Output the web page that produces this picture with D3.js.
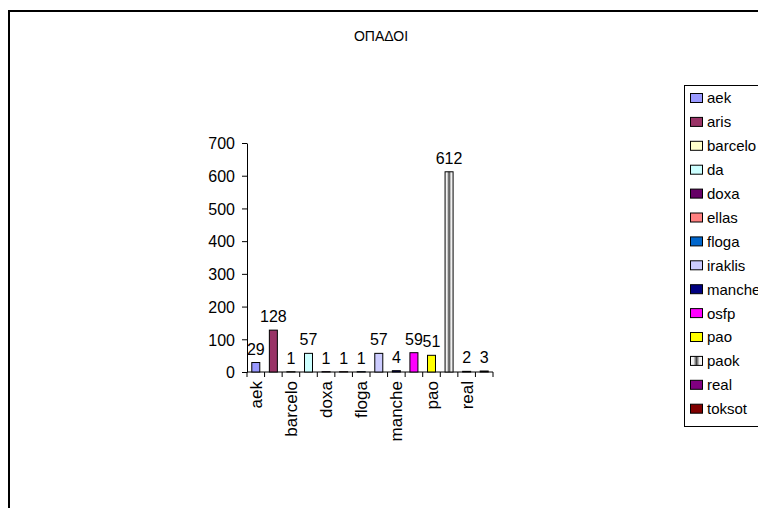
<!DOCTYPE html>
<html>
<head>
<meta charset="utf-8">
<script src="https://cdn.jsdelivr.net/npm/d3@7"></script>
<style>
  body { margin: 0; background: #fff; }
  text { font-family: "Liberation Sans", Arial, sans-serif; fill: #000; }
</style>
</head>
<body>
<script>
// chart data
var teams = ["aek", "aris", "barcelo", "da", "doxa", "ellas", "floga", "iraklis", "manche", "osfp", "pao", "paok", "real", "toksot"];
var fans = [29, 128, 1, 57, 1, 1, 1, 57, 4, 59, 51, 612, 2, 3];
var colors = ["#9999FF", "#993366", "#FFFFCC", "#CCFFFF", "#660066", "#FF8080", "#0066CC", "#CCCCFF", "#000080", "#FF00FF", "#FFFF00", "url(#paokFill)", "#800080", "#800000"];
var yTicks = [0, 100, 200, 300, 400, 500, 600, 700];

var W = 758, H = 508;
var svg = d3.select("body").append("svg")
    .attr("width", W)
    .attr("height", H);

// gray streaked fill for paok
var grad = svg.append("defs").append("linearGradient")
    .attr("id", "paokFill").attr("x1", "0").attr("x2", "1").attr("y1", "0").attr("y2", "0");
grad.append("stop").attr("offset", "0%").attr("stop-color", "#ffffff");
grad.append("stop").attr("offset", "25%").attr("stop-color", "#eeeeee");
grad.append("stop").attr("offset", "50%").attr("stop-color", "#444444");
grad.append("stop").attr("offset", "75%").attr("stop-color", "#eeeeee");
grad.append("stop").attr("offset", "100%").attr("stop-color", "#ffffff");

// outer chart frame (runs past the window on the right and bottom)
svg.append("rect")
    .attr("x", 9).attr("y", 11)
    .attr("width", 800).attr("height", 600)
    .attr("fill", "none").attr("stroke", "#000").attr("stroke-width", 2);

svg.append("text")
    .attr("x", 381).attr("y", 41)
    .attr("text-anchor", "middle")
    .style("font-size", "14px")
    .text("ΟΠΑΔΟΙ");

var x = d3.scaleBand()
    .domain(teams)
    .range([247, 493]);

var y = d3.scaleLinear()
    .domain([0, 700])
    .range([372, 143]);

// y axis
var yAxis = svg.append("g")
    .attr("transform", "translate(247,0)")
    .call(d3.axisLeft(y).tickValues(yTicks).tickSize(5).tickSizeOuter(0));
yAxis.select(".domain").attr("stroke", "#000");
yAxis.selectAll("text").style("font-size", "16px").attr("x", -12).attr("dy", "0.36em");

// x axis, ticks between categories
var xAxisG = svg.append("g");
xAxisG.append("line")
    .attr("x1", 247).attr("x2", 493)
    .attr("y1", 372).attr("y2", 372)
    .attr("stroke", "#000");
xAxisG.selectAll("line.tk")
    .data(teams.concat(["_end"]))
    .enter()
    .append("line")
    .attr("class", "tk")
    .attr("x1", function(d, i) { return 247 + i * x.step(); })
    .attr("x2", function(d, i) { return 247 + i * x.step(); })
    .attr("y1", 372).attr("y2", 377)
    .attr("stroke", "#000");

// only every other label fits
xAxisG.selectAll("text")
    .data(teams.filter(function(d, i) { return i % 2 == 0; }))
    .enter()
    .append("text")
    .attr("transform", function(d) {
        return "translate(" + (x(d) + x.bandwidth() / 2 + 6) + ",381) rotate(-90)";
    })
    .attr("text-anchor", "end")
    .style("font-size", "17px")
    .text(function(d) { return d; });

// bars
var bw = 8;
svg.selectAll("rect.bar")
    .data(teams)
    .enter()
    .append("rect")
    .attr("class", "bar")
    .attr("x", function(d) { return x(d) + x.bandwidth() / 2 - bw / 2; })
    .attr("y", function(d, i) { return y(fans[i]); })
    .attr("width", bw)
    .attr("height", function(d, i) { return y(0) - y(fans[i]); })
    .attr("fill", function(d, i) { return colors[i]; })
    .attr("stroke", "#000")
    .attr("stroke-width", 1);

// value labels
svg.selectAll("text.val")
    .data(teams)
    .enter()
    .append("text")
    .attr("class", "val")
    .attr("x", function(d) { return x(d) + x.bandwidth() / 2; })
    .attr("y", function(d, i) { return y(fans[i]) - 8; })
    .attr("text-anchor", "middle")
    .style("font-size", "16px")
    .text(function(d, i) { return fans[i]; });

// legend (clipped by the window on the right, as in the original)
svg.append("rect")
    .attr("x", 684.5).attr("y", 85.5)
    .attr("width", 100).attr("height", 341)
    .attr("fill", "#fff").attr("stroke", "#000");

var leg = svg.selectAll("g.leg")
    .data(teams)
    .enter()
    .append("g")
    .attr("class", "leg")
    .attr("transform", function(d, i) { return "translate(690," + (98 + i * 23.9) + ")"; });

leg.append("rect")
    .attr("x", 0.5).attr("y", -4.5)
    .attr("width", 12).attr("height", 9)
    .attr("fill", function(d, i) { return colors[i]; })
    .attr("stroke", "#000");

leg.append("text")
    .attr("x", 17).attr("y", 0)
    .attr("dy", "0.36em")
    .style("font-size", "15px")
    .text(function(d) { return d; });
</script>
</body>
</html>
